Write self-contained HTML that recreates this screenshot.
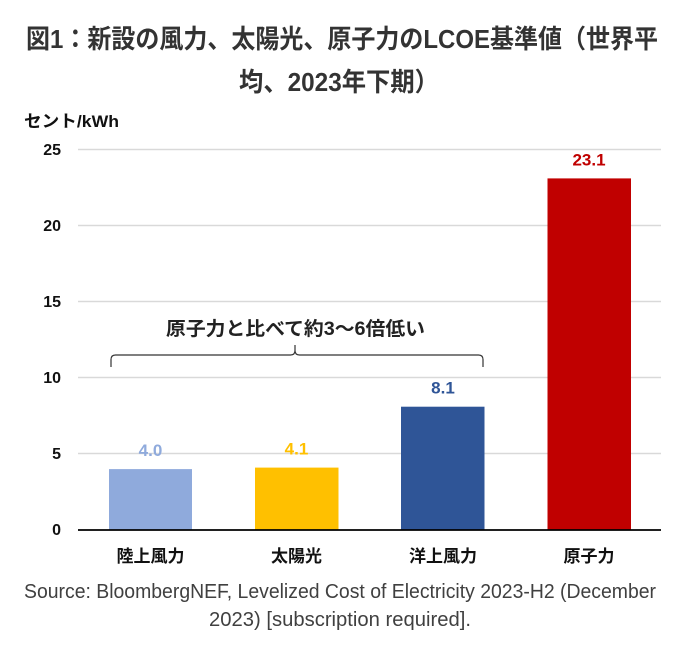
<!DOCTYPE html>
<html>
<head>
<meta charset="utf-8">
<style>
  html,body{margin:0;padding:0;background:#fff;}
  svg{display:block;}
  .cjk{font-family:"Liberation Sans","Noto Sans CJK JP",sans-serif;}
</style>
</head>
<body>
<svg width="680" height="647" viewBox="0 0 680 647" xmlns="http://www.w3.org/2000/svg" class="cjk">
  <rect width="680" height="647" fill="#fff"/>
  <!-- Title -->
  <text x="26" y="48" font-size="26" font-weight="bold" fill="#333" textLength="632" lengthAdjust="spacingAndGlyphs">図1：新設の風力、太陽光、原子力のLCOE基準値（世界平</text>
  <text x="239" y="91" font-size="26" font-weight="bold" fill="#333" textLength="200" lengthAdjust="spacingAndGlyphs">均、2023年下期）</text>

  <!-- Y axis label -->
  <text x="24" y="127" font-size="17" font-weight="bold" fill="#111" textLength="95" lengthAdjust="spacingAndGlyphs">セント/kWh</text>

  <!-- Gridlines -->
  <g stroke="#d9d9d9" stroke-width="1.6">
    <line x1="78" y1="149.5" x2="661" y2="149.5"/>
    <line x1="78" y1="225.5" x2="661" y2="225.5"/>
    <line x1="78" y1="301.5" x2="661" y2="301.5"/>
    <line x1="78" y1="377.5" x2="661" y2="377.5"/>
    <line x1="78" y1="453.5" x2="661" y2="453.5"/>
  </g>

  <!-- Y tick labels -->
  <g font-size="16" font-weight="bold" fill="#111" text-anchor="end">
    <text x="61" y="155">25</text>
    <text x="61" y="231">20</text>
    <text x="61" y="307">15</text>
    <text x="61" y="383">10</text>
    <text x="61" y="459">5</text>
    <text x="61" y="535">0</text>
  </g>

  <!-- Bars -->
  <rect x="109" y="469.1" width="83" height="60.9" fill="#8FAADC"/>
  <rect x="255" y="467.6" width="83.5" height="62.4" fill="#FFC000"/>
  <rect x="401" y="406.7" width="83.5" height="123.3" fill="#2F5597"/>
  <rect x="547.5" y="178.4" width="83.5" height="351.6" fill="#C00000"/>

  <!-- Zero axis -->
  <line x1="78" y1="530" x2="661" y2="530" stroke="#000" stroke-width="1.8"/>

  <!-- Value labels -->
  <g font-size="17" font-weight="bold" text-anchor="middle">
    <text x="150.5" y="456" fill="#8FAADC">4.0</text>
    <text x="296.5" y="454.5" fill="#FFC000">4.1</text>
    <text x="443" y="393.5" fill="#2F5597">8.1</text>
    <text x="589" y="165.5" fill="#C00000">23.1</text>
  </g>

  <!-- Bracket -->
  <path d="M111,367 L111,359.5 Q111,355 115.5,355 L290.5,355 Q295,355 295,350.5 L295,345 M295,350.5 Q295,355 299.5,355 L478.5,355 Q483,355 483,359.5 L483,367" fill="none" stroke="#333" stroke-width="1.2"/>

  <!-- Annotation -->
  <text x="166" y="335" font-size="19" font-weight="bold" fill="#222" textLength="259" lengthAdjust="spacingAndGlyphs">原子力と比べて約3〜6倍低い</text>

  <!-- Category labels -->
  <g font-size="17" font-weight="bold" fill="#111" text-anchor="middle">
    <text x="150.5" y="562">陸上風力</text>
    <text x="296.5" y="562">太陽光</text>
    <text x="443" y="562">洋上風力</text>
    <text x="589" y="562">原子力</text>
  </g>

  <!-- Source -->
  <text x="24" y="598" font-size="20" fill="#404040" textLength="632" lengthAdjust="spacingAndGlyphs">Source: BloombergNEF, Levelized Cost of Electricity 2023-H2 (December</text>
  <text x="209" y="626" font-size="20" fill="#404040" textLength="262" lengthAdjust="spacingAndGlyphs">2023) [subscription required].</text>
</svg>
</body>
</html>
